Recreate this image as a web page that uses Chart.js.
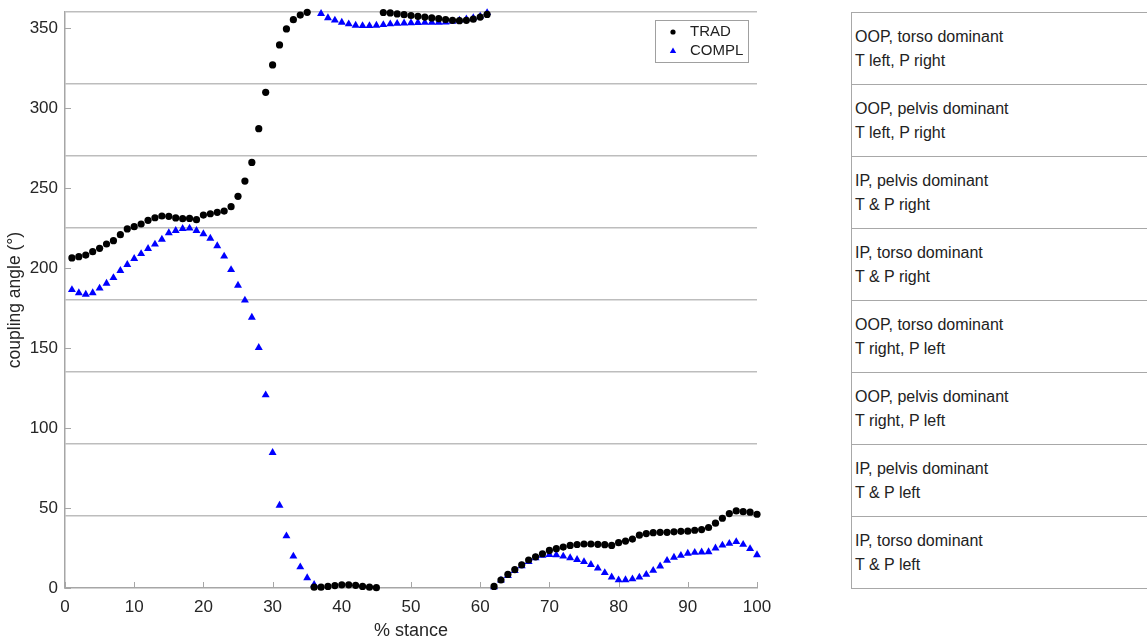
<!DOCTYPE html>
<html>
<head>
<meta charset="utf-8">
<script src="https://cdn.jsdelivr.net/npm/chart.js@4.4.0/dist/chart.umd.min.js"></script>
<style>
  body { margin: 0; background: #fff; font-family: "Liberation Sans", Arial, sans-serif; }
  #wrap { position: relative; width: 1147px; height: 642px; overflow: hidden; }
  #plot { position: absolute; left: 0; top: 0; }
  #zones { position: absolute; left: 851px; top: 12px; width: 320px; border-left: 1px solid #a8a8a8; }
  .zone { height: 72px; box-sizing: border-box; border-top: 1px solid #a8a8a8; display: flex; flex-direction: column; justify-content: center; padding-left: 3px; font-size: 16px; line-height: 24px; color: #222; }
  .zone:last-child { height: 73px; border-bottom: 1px solid #a8a8a8; }
</style>
</head>
<body>
<div id="wrap">
  <canvas id="plot" width="800" height="642"></canvas>
  <div id="zones"></div>
</div>
<script>
// % stance, one sample per percent
const stance = [1, 2, 3, 4, 5, 6, 7, 8, 9, 10, 11, 12, 13, 14, 15, 16, 17, 18, 19, 20,
  21, 22, 23, 24, 25, 26, 27, 28, 29, 30, 31, 32, 33, 34, 35, 36, 37, 38, 39, 40,
  41, 42, 43, 44, 45, 46, 47, 48, 49, 50, 51, 52, 53, 54, 55, 56, 57, 58, 59, 60,
  61, 62, 63, 64, 65, 66, 67, 68, 69, 70, 71, 72, 73, 74, 75, 76, 77, 78, 79, 80,
  81, 82, 83, 84, 85, 86, 87, 88, 89, 90, 91, 92, 93, 94, 95, 96, 97, 98, 99, 100];

// coupling angle (deg)
const trad = [206.3, 207.1, 208.1, 210.2, 212.3, 215, 217.1, 220.8, 224.4, 225.8,
  227.5, 229.8, 231.4, 232.5, 232.3, 231.3, 230.8, 231, 230.2, 233.1,
  233.9, 234.8, 235.6, 238.3, 244.8, 254.3, 266, 287.1, 309.8, 326.9,
  339.4, 349.4, 355.2, 358.1, 359.8, 0.5, 0.5, 1, 1.5, 2,
  2, 1.7, 1, 0.5, 0.2, 359.7, 359.4, 358.8, 358.3, 357.8,
  357.3, 356.8, 356.3, 355.8, 355.3, 354.8, 354.6, 354.8, 355.5, 356.8,
  358.5, 1, 5, 8.5, 11.5, 14.5, 17.5, 19.5, 21.4, 23.5,
  24.6, 25.6, 26.6, 27.2, 27.5, 27.5, 27.3, 27.1, 26.6, 28.3,
  29.3, 30.6, 33, 34, 34.6, 34.8, 34.8, 35.1, 35.4, 35.5,
  36.1, 36.5, 37.8, 40.5, 43.6, 46.5, 48.2, 47.7, 47.4, 46.1];

const compl = [186.4, 184.4, 183.5, 184.4, 187.3, 190.4, 193.9, 198.3, 202.1, 205.8,
  208.9, 212.1, 214.8, 217.9, 221.9, 223.3, 224.6, 224.8, 223.3, 221.3,
  218.5, 213.8, 207.3, 198.9, 189.1, 179.8, 169.1, 150.2, 120.6, 84.6,
  51.6, 32.5, 19.8, 13.1, 6.3, 2.1, 359, 356.3, 354.8, 353.5,
  352.5, 351.6, 351.4, 351.4, 351.6, 352, 352.5, 352.8, 353, 353.2,
  353.3, 353.4, 353.5, 353.5, 353.6, 354.1, 354.8, 355.6, 356.3, 357.3,
  359.5, 0.6, 4.8, 7.7, 10.8, 13.8, 16.4, 18.8, 20.4, 20.8,
  20.6, 19.8, 18.8, 17.7, 16.4, 14.6, 12.3, 9.5, 6.8, 5,
  5.1, 5.6, 6.7, 8.4, 10.9, 13.7, 17.2, 19.1, 20.3, 21.6,
  22.2, 22.4, 22.6, 24.9, 26.7, 27.8, 28.9, 27.2, 24.5, 20.7];

// y ticks: labels every 50, zone lines every 45
const yLabelTicks = [0, 50, 100, 150, 200, 250, 300, 350];
const zoneBounds = [45, 90, 135, 180, 225, 270, 315, 360];

// zone descriptions, top to bottom
const zoneLabels = [
  ['OOP, torso dominant', 'T left, P right'],
  ['OOP, pelvis dominant', 'T left, P right'],
  ['IP, pelvis dominant', 'T & P right'],
  ['IP, torso dominant', 'T & P right'],
  ['OOP, torso dominant', 'T right, P left'],
  ['OOP, pelvis dominant', 'T right, P left'],
  ['IP, pelvis dominant', 'T & P left'],
  ['IP, torso dominant', 'T & P left']
];

const zones = document.getElementById('zones');
zoneLabels.forEach(lines => {
  const d = document.createElement('div');
  d.className = 'zone';
  lines.forEach(t => {
    const s = document.createElement('div');
    s.textContent = t;
    d.appendChild(s);
  });
  zones.appendChild(d);
});

const axisGray = '#a6a6a6';
const gridGray = '#bdbdbd';

// short tick marks pointing into the plot
const innerTicks = {
  id: 'innerTicks',
  beforeDatasetsDraw(chart) {
    const { ctx, chartArea: a, scales: { x, y } } = chart;
    ctx.save();
    ctx.strokeStyle = axisGray;
    ctx.lineWidth = 1;
    ctx.beginPath();
    x.ticks.forEach(t => {
      const px = Math.round(x.getPixelForValue(t.value)) + 0.5;
      ctx.moveTo(px, a.bottom);
      ctx.lineTo(px, a.bottom - 6);
    });
    y.ticks.forEach(t => {
      if (!yLabelTicks.includes(t.value)) return;
      const py = Math.round(y.getPixelForValue(t.value)) + 0.5;
      ctx.moveTo(a.left, py);
      ctx.lineTo(a.left + 6, py);
    });
    ctx.stroke();
    ctx.restore();
  }
};

// boxed legend in the top right corner of the plot
const boxLegend = {
  id: 'boxLegend',
  afterDatasetsDraw(chart) {
    const { ctx, chartArea: a } = chart;
    const w = 93, h = 42;
    const x0 = a.right - 9 - w, y0 = a.top + 8;
    ctx.save();
    ctx.fillStyle = '#fff';
    ctx.fillRect(x0, y0, w, h);
    ctx.strokeStyle = '#a0a0a0';
    ctx.lineWidth = 1;
    ctx.strokeRect(Math.round(x0) + 0.5, Math.round(y0) + 0.5, w, h);
    ctx.font = '15px "Liberation Sans", Arial, sans-serif';
    ctx.textBaseline = 'middle';
    chart.data.datasets.forEach((ds, i) => {
      const cy = y0 + 12 + i * 19;
      const mx = x0 + 18;
      ctx.fillStyle = ds.pointBackgroundColor;
      ctx.beginPath();
      if (ds.pointStyle === 'triangle') {
        ctx.moveTo(mx, cy - 3.5);
        ctx.lineTo(mx + 3.2, cy + 2);
        ctx.lineTo(mx - 3.2, cy + 2);
        ctx.closePath();
      } else {
        ctx.arc(mx, cy, 2.6, 0, Math.PI * 2);
      }
      ctx.fill();
      ctx.fillStyle = '#222';
      ctx.fillText(ds.label, x0 + 35, cy);
    });
    ctx.restore();
  }
};

Chart.defaults.font.family = '"Liberation Sans", Arial, sans-serif';
Chart.defaults.color = '#262626';

new Chart(document.getElementById('plot'), {
  type: 'line',
  data: {
    labels: stance,
    datasets: [
      {
        label: 'TRAD',
        data: trad,
        showLine: false,
        pointStyle: 'circle',
        pointRadius: 3.6,
        pointBorderWidth: 0,
        pointBackgroundColor: '#000000',
        pointBorderColor: '#000000',
        clip: false
      },
      {
        label: 'COMPL',
        data: compl,
        showLine: false,
        pointStyle: 'triangle',
        pointRadius: 4.6,
        pointBorderWidth: 0,
        pointBackgroundColor: '#0000ff',
        pointBorderColor: '#0000ff',
        clip: false
      }
    ]
  },
  options: {
    responsive: false,
    animation: false,
    layout: { padding: { top: 12, right: 43, left: 0, bottom: 0 } },
    plugins: {
      legend: { display: false },
      tooltip: { enabled: false }
    },
    elements: { point: { hoverRadius: 3.6 } },
    scales: {
      x: {
        type: 'linear',
        min: 0,
        max: 100,
        afterFit: s => { s.height = 54; s.paddingLeft = 0; s.paddingRight = 0; },
        ticks: { stepSize: 10, padding: 9, font: { size: 17 } },
        grid: { display: false, drawTicks: false },
        border: { display: true, color: axisGray, width: 1.5 },
        title: { display: true, text: '% stance', font: { size: 18 }, padding: { top: 0, bottom: 0 } }
      },
      y: {
        type: 'linear',
        min: 0,
        max: 360,
        afterFit: s => { s.width = 65; s.paddingTop = 0; s.paddingBottom = 0; },
        afterBuildTicks: s => {
          const vals = [...new Set([...yLabelTicks, ...zoneBounds])].sort((p, q) => p - q);
          s.ticks = vals.map(v => ({ value: v }));
        },
        ticks: {
          autoSkip: false,
          padding: 7,
          font: { size: 17 },
          callback: v => (yLabelTicks.includes(v) ? v : '')
        },
        grid: {
          drawTicks: false,
          lineWidth: 1.5,
          color: c => (zoneBounds.includes(c.tick.value) ? gridGray : 'rgba(0,0,0,0)')
        },
        border: { display: true, color: axisGray, width: 1.5 },
        title: { display: true, text: 'coupling angle (°)', font: { size: 17.5 }, padding: { top: 5, bottom: 0 } }
      }
    }
  },
  plugins: [innerTicks, boxLegend]
});
</script>
</body>
</html>
